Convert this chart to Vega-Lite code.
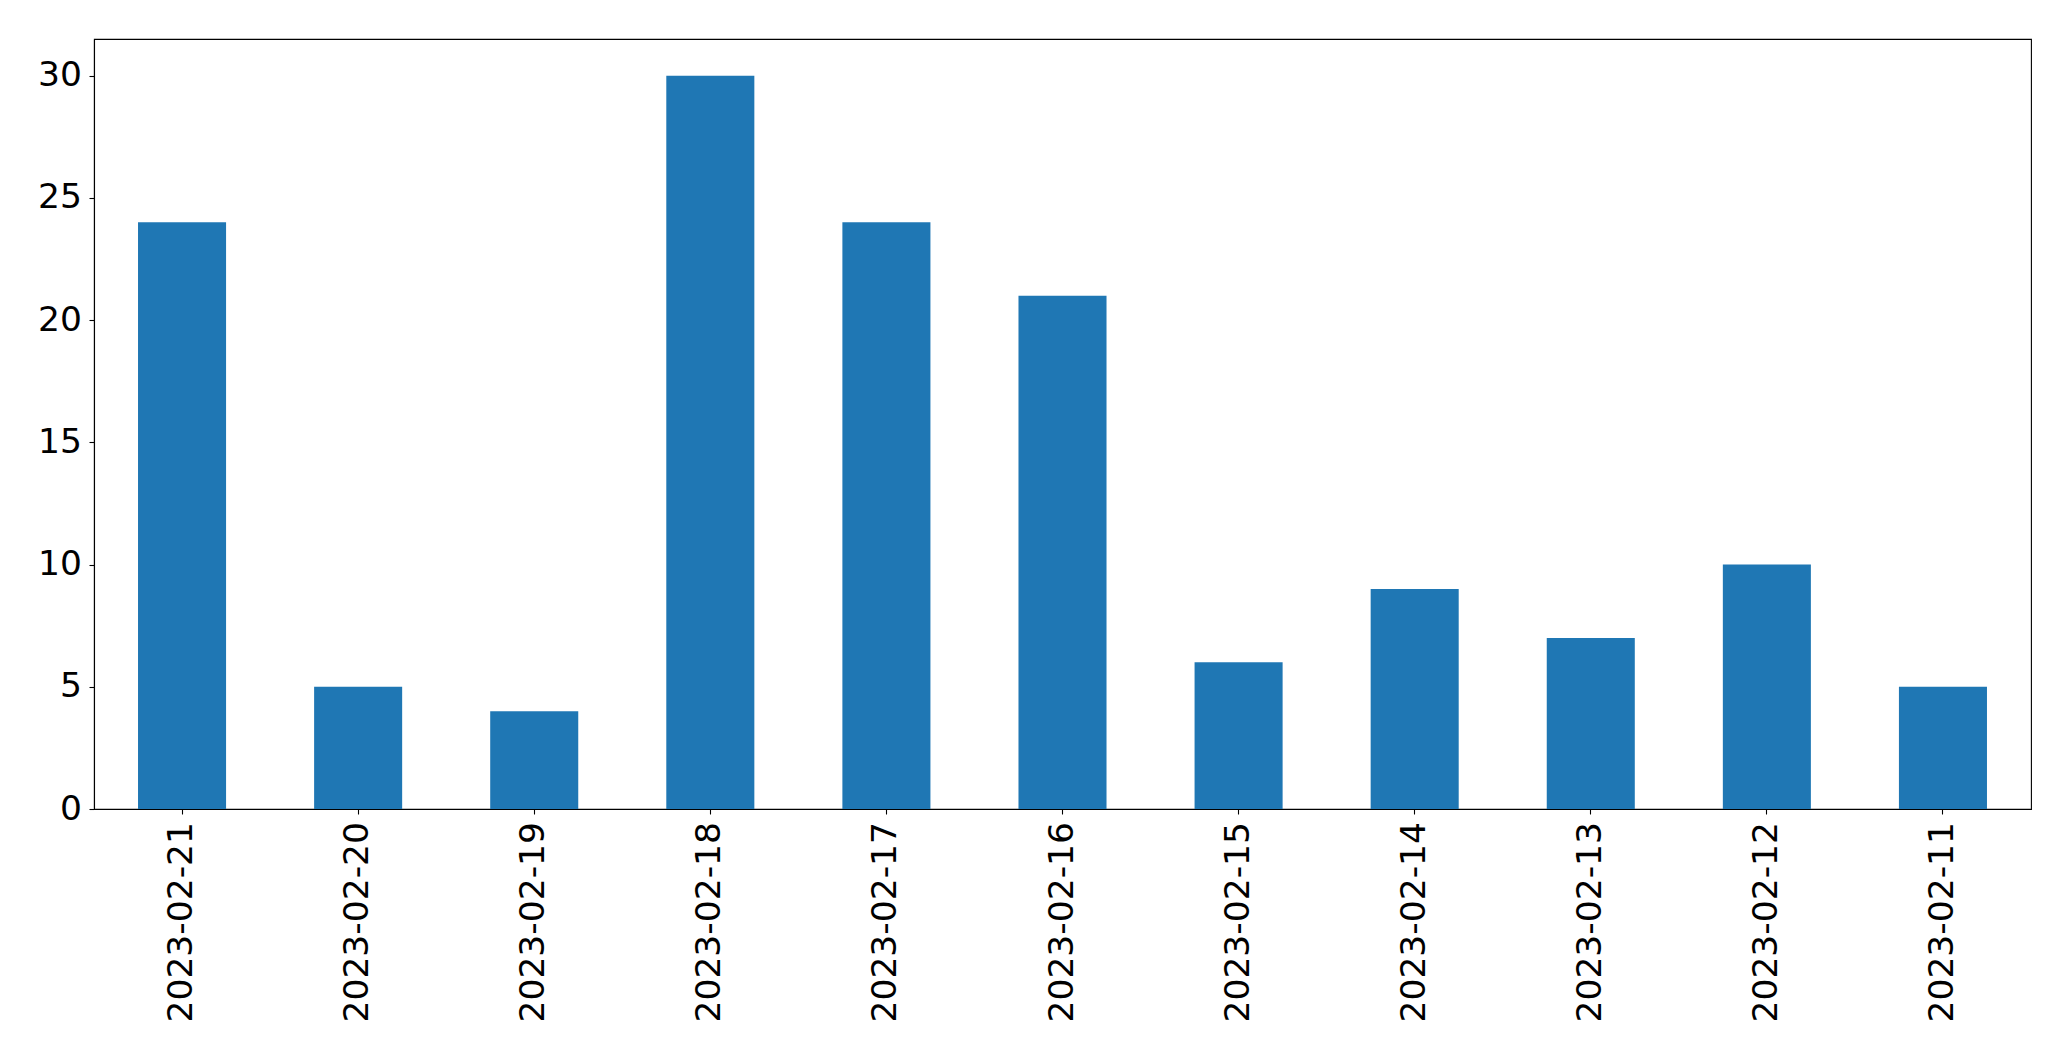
{
  "$schema": "https://vega.github.io/schema/vega-lite/v6.json",
  "autosize": "none",
  "padding": {"left": 94, "top": 39, "right": 40, "bottom": 252},
  "width": 1937,
  "height": 770,
  "background": "white",
  "config": {
    "view": {"stroke": "black", "strokeWidth": 1.1},
    "font": "DejaVu Sans"
  },
  "data": {
    "values": [
      {"date": "2023-02-21", "count": 24},
      {"date": "2023-02-20", "count": 5},
      {"date": "2023-02-19", "count": 4},
      {"date": "2023-02-18", "count": 30},
      {"date": "2023-02-17", "count": 24},
      {"date": "2023-02-16", "count": 21},
      {"date": "2023-02-15", "count": 6},
      {"date": "2023-02-14", "count": 9},
      {"date": "2023-02-13", "count": 7},
      {"date": "2023-02-12", "count": 10},
      {"date": "2023-02-11", "count": 5}
    ]
  },
  "mark": {"type": "bar", "color": "#1f77b4"},
  "encoding": {
    "x": {
      "field": "date",
      "type": "nominal",
      "sort": null,
      "scale": {"paddingInner": 0.5, "paddingOuter": 0.25},
      "axis": {
        "title": null,
        "labelAngle": -90,
        "labelFontSize": 34.5,
        "labelFont": "DejaVu Sans",
        "labelColor": "black",
        "labelPadding": 7.5,
        "labelLimit": 0,
        "tickSize": 5,
        "tickColor": "black",
        "tickWidth": 1.1,
        "domainColor": "black",
        "domainWidth": 1.1,
        "grid": false
      }
    },
    "y": {
      "field": "count",
      "type": "quantitative",
      "scale": {"domain": [0, 31.5], "nice": false, "zero": true},
      "axis": {
        "title": null,
        "values": [0, 5, 10, 15, 20, 25, 30],
        "labelFontSize": 34.5,
        "labelFont": "DejaVu Sans",
        "labelColor": "black",
        "labelPadding": 7.5,
        "tickSize": 5,
        "tickColor": "black",
        "tickWidth": 1.1,
        "domainColor": "black",
        "domainWidth": 1.1,
        "grid": false
      }
    }
  }
}
